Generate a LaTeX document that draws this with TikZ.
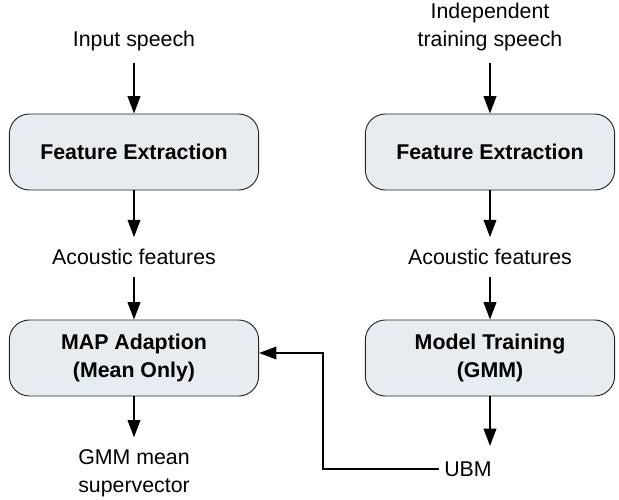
\documentclass[tikz,border=0pt]{standalone}
\usepackage{fontspec}
\setmainfont{Liberation Sans}
\usetikzlibrary{arrows.meta}
\definecolor{boxfill}{HTML}{E7ECF1}

\begin{document}
\begin{tikzpicture}[x=0.75pt, y=-0.75pt, >={Triangle[length=13pt, width=9.5pt]},
	font=\fontsize{16}{21}\selectfont]
	\tikzset{
		block/.style={draw=black!85, line width=0.7pt, fill=boxfill, rounded corners=15pt,
			minimum width=187pt, minimum height=57pt, align=center,
			font=\fontsize{16}{21}\selectfont\bfseries},
		txt/.style={align=center, inner sep=2pt, outer sep=7pt},
		flow/.style={->, line width=1.3pt}
	}
	\useasboundingbox (0,0) rectangle (619,500);
	
	\foreach \m/\x in {1/134, 2/490}
	\node [block] (fe-\m) at (\x,152) {Feature Extraction};
	
	\node [block] (map) at (134,358) {MAP Adaption\\(Mean Only)};
	\node [block] (train) at (490,358) {Model Training\\(GMM)};
	
	\node [txt] (in-1) at (134,41) {Input speech};
	\node [txt] (in-2) at (490,27) {Independent\\training speech};
	
	\foreach \m/\x in {1/134, 2/490}
	\node [txt] (feat-\m) at (\x,257) {Acoustic features};
	
	\node [txt] (out-1) at (134,473) {GMM mean\\supervector};
	\node [txt, outer sep=2pt] (ubm) at (468,469) {UBM};
	
	\foreach \a/\b in {in-1/fe-1, fe-1/feat-1, feat-1/map, map/out-1,
		in-2/fe-2, fe-2/feat-2, feat-2/train}
	\draw [flow] (\a) -- (\a |- \b.north);
	
	\coordinate (ubm-in) at (490,446);
	\draw [flow] (train) -- (ubm-in);
	
	\coordinate (bend) at (323,353);
	\draw [flow, line width=1.1pt] (ubm.west) -| (bend) -- (map.east |- bend);
\end{tikzpicture}
\end{document}
